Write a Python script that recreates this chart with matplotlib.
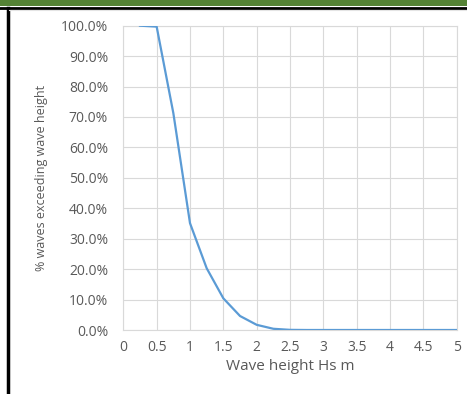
import matplotlib.pyplot as plt
from matplotlib.patches import Rectangle
from matplotlib.lines import Line2D
from matplotlib.ticker import PercentFormatter

# Exceedance curve: share of waves higher than a given significant height
wave_height = [0.25, 0.5, 0.75, 1.0, 1.25, 1.5, 1.75, 2.0, 2.25, 2.5, 2.75, 3.0,
               3.25, 3.5, 3.75, 4.0, 4.25, 4.5, 4.75, 5.0]
pct_exceeding = [100.0, 99.7, 71.3, 35.1, 20.3, 10.4, 4.6, 1.7, 0.4, 0.05, 0.0, 0.0,
                 0.0, 0.0, 0.0, 0.0, 0.0, 0.0, 0.0, 0.0]

x_ticks = [0, 0.5, 1, 1.5, 2, 2.5, 3, 3.5, 4, 4.5, 5]
x_tick_labels = ["0", "0.5", "1", "1.5", "2", "2.5", "3", "3.5", "4", "4.5", "5"]
y_ticks = [0, 10, 20, 30, 40, 50, 60, 70, 80, 90, 100]

plt.rcParams["font.family"] = ["Open Sans", "DejaVu Sans"]
text_grey = "#595959"
grid_grey = "#D9D9D9"

fig = plt.figure(figsize=(4.67, 3.94), dpi=100)

# ── frame decorations: green header strip and black left border ─────────────
fig.add_artist(Rectangle((0, 1 - 6 / 394), 1, 6 / 394, transform=fig.transFigure,
                         facecolor="#548235", edgecolor="none"))
fig.add_artist(Line2D([0, 1], [1 - 7.5 / 394] * 2, transform=fig.transFigure,
                      color="black", lw=2.0))
fig.add_artist(Line2D([7.5 / 467] * 2, [0, 1 - 7.5 / 394], transform=fig.transFigure,
                      color="black", lw=2.5))
fig.add_artist(Line2D([9 / 467, 1], [1 - 10 / 394] * 2, transform=fig.transFigure,
                      color="#E4E4E4", lw=0.8))

# ── chart ────────────────────────────────────────────────────────────────────
ax = fig.add_axes([123.3 / 467, 64 / 394, 333.5 / 467, 304.3 / 394])
ax.plot(wave_height, pct_exceeding, color="#5B9BD5", lw=1.6, zorder=3,
        solid_joinstyle="round")

ax.set_xlim(0, 5)
ax.set_ylim(0, 100)
ax.set_xticks(x_ticks)
ax.set_xticklabels(x_tick_labels)
ax.set_yticks(y_ticks)
ax.yaxis.set_major_formatter(PercentFormatter(decimals=1))

ax.grid(True, color=grid_grey, lw=0.8)
ax.set_axisbelow(True)
for spine in ax.spines.values():
    spine.set_color(grid_grey)
    spine.set_linewidth(0.8)

ax.tick_params(length=0, labelsize=10, labelcolor=text_grey)
ax.tick_params(axis="y", pad=11)
ax.tick_params(axis="x", pad=7)
ax.set_xlabel("Wave height Hs m", fontsize=11, color=text_grey, labelpad=3)
ax.set_ylabel("% waves exceeding wave height", fontsize=9, color=text_grey,
              labelpad=9)

fig.savefig("out.png", dpi=100)
